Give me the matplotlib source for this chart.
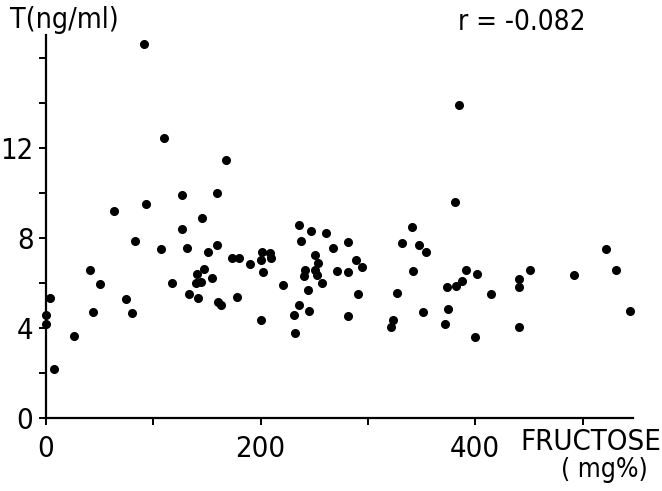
import matplotlib
matplotlib.use("Agg")
import matplotlib.pyplot as plt

fructose = [0, 0, 3.7, 7.8, 26, 41, 44, 50, 63, 75, 80, 83, 91, 93, 107, 110, 117, 127, 127,
            131.5, 133, 139.6, 140.5, 141.4, 144.5, 145, 147, 150.7, 155, 159, 159, 160.4, 163,
            167.5, 173.7, 178, 180, 190.5, 200.2, 200.5, 201.4, 202.6, 209.2, 209.8, 220.7,
            231.2, 231.9, 235.9, 235.9, 237.5, 240.3, 241.2, 243.7, 245.5, 247, 250.5, 250.8,
            252.4, 253, 257.6, 261, 267.5, 271, 281.3, 281.3, 281.6, 289, 291.2, 294.6, 321.4,
            323.8, 327, 331.9, 341.3, 341.6, 348, 350.9, 353.7, 371.4, 373.6, 374.5, 381.5,
            381.6, 384.5, 387.9, 391.6, 400, 401.2, 415, 440.4, 440.7, 440.7, 451, 492.3,
            521.9, 531.5, 544.5]
testosterone = [4.56, 4.18, 5.33, 2.18, 3.64, 6.59, 4.71, 5.96, 9.21, 5.30, 4.65, 7.85, 16.6,
                9.5, 7.48, 12.43, 6.01, 9.9, 8.4, 7.53, 5.51, 6.0, 6.41, 5.32, 6.04, 8.89, 6.62,
                7.35, 6.22, 9.97, 7.68, 5.16, 5.0, 11.45, 7.08, 5.36, 7.11, 6.83, 4.37, 7.02,
                7.38, 6.49, 7.33, 7.08, 5.9, 4.55, 3.78, 5.02, 8.56, 7.87, 6.31, 6.58, 5.69,
                4.73, 8.3, 7.23, 6.55, 6.34, 6.87, 6.0, 8.19, 7.55, 6.51, 7.82, 6.47, 4.52, 7.02,
                5.5, 6.71, 4.06, 4.36, 5.53, 7.78, 8.5, 6.52, 7.7, 4.69, 7.38, 4.19, 5.81, 4.86,
                9.6, 5.87, 13.9, 6.1, 6.55, 3.59, 6.4, 5.51, 6.15, 5.82, 4.03, 6.59, 6.36, 7.5,
                6.55, 4.76]

x_ticks = [0, 100, 200, 300, 400, 500]
x_labels = ["0", "", "200", "", "400", ""]
y_ticks = [0, 2, 4, 6, 8, 10, 12, 14, 16]
y_labels = ["0", "", "4", "", "8", "", "12", "", ""]

plt.rcParams['font.family'] = ['DejaVu Sans']
plt.rcParams['font.stretch'] = 'condensed'

fig = plt.figure(figsize=(6.62, 4.91), dpi=100)
ax = fig.add_axes([46/662, 1-418/491, (633-46)/662, (418-35)/491])
ax.plot(fructose, testosterone, 'o', color='black', markersize=5.5, clip_on=False)
ax.set_xlim(0, 547)
ax.set_ylim(0, 17)
for s in ['top', 'right']:
    ax.spines[s].set_visible(False)
for s in ['left', 'bottom']:
    ax.spines[s].set_linewidth(1.6)
ax.set_xticks(x_ticks)
ax.set_xticklabels(x_labels)
ax.set_yticks(y_ticks)
ax.set_yticklabels(y_labels)
ax.tick_params(direction='out', length=5, width=1.4, labelsize=21)
ax.tick_params(axis='x', pad=7)
ax.tick_params(axis='y', pad=4)

fig.text(10/662, 1-20/491, "T(ng/ml)", fontsize=20.5, ha='left', va='center')
fig.text(458/662, 1-22/491, "r = -0.082", fontsize=20, ha='left', va='center')
fig.text(661/662, 1-442/491, "FRUCTOSE", fontsize=21, ha='right', va='center')
fig.text(604/662, 1-470/491, "( mg%)", fontsize=19, ha='center', va='center')

fig.savefig("out.png", dpi=100)
